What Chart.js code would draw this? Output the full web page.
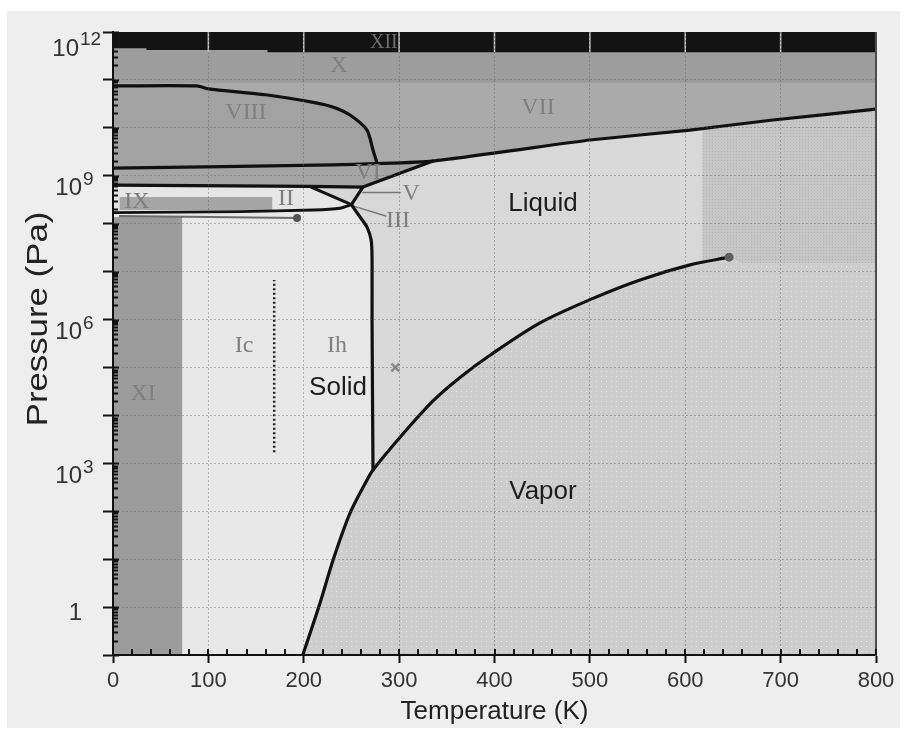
<!DOCTYPE html>
<html>
<head>
<meta charset="utf-8">
<title>Phase diagram of water</title>
<script src="https://cdn.jsdelivr.net/npm/chart.js@4/dist/chart.umd.min.js"></script>
<style>
html,body{margin:0;padding:0;background:#fff;overflow:hidden;}
canvas{display:block;}
</style>
</head>
<body>
<canvas id="chart" width="915" height="733"></canvas>
<script>
// ---------------- axis ticks ----------------
const xTickLabels = [0, 100, 200, 300, 400, 500, 600, 700, 800];
const xMinorTicks = Array.from({length: 41}, (_, i) => i * 20);
const yDecades = [0.1, 1, 10, 100, 1e3, 1e4, 1e5, 1e6, 1e7, 1e8, 1e9, 1e10, 1e11, 1e12];
const yTickValues = [1, 1e3, 1e6, 1e9, 1e12];
const yTickBase = ['1', '10', '10', '10', '10'];
const yTickExponent = ['', '3', '6', '9', '12'];

// ---------------- phase boundaries  [T (K), P (Pa)] ----------------
const vaporCurve = [[199, 0.1], [217, 1.2], [230.7, 9.5], [248.5, 91], [266.3, 447], [272.6, 724],
  [301, 3.5e3], [335.5, 2.0e4], [363.8, 6.2e4], [395.3, 1.8e5], [447.7, 8.5e5], [500.1, 2.6e6],
  [552.6, 6.7e6], [605, 1.38e7], [646, 2.0e7]];
const ihMeltingCurve = [[272.6, 724], [271.6, 1e6], [271.6, 2e7], [270.6, 4.6e7], [266.3, 8.5e7], [259, 1.38e8], [250, 2.5e8]];
const ihIIBoundary = [[0, 1.71e8], [133, 1.78e8], [210, 1.93e8], [238, 2.1e8], [250, 2.5e8]];
const iiVIBoundary = [[0, 6.4e8], [206, 6.0e8], [262, 5.8e8]];
const iiIIIBoundary = [[206, 6.0e8], [250, 2.5e8]];
const highIceMelting = [[250, 2.5e8], [262, 5.8e8], [335.5, 2.03e9]];
const viVIIIBoundaryAndVIIMelting = [[0, 1.45e9], [230.7, 1.68e9], [335.5, 2.03e9], [500.1, 5.57e9],
  [605, 9.0e9], [692, 1.46e10], [800, 2.45e10]];
const viiiUpperBoundary = [[0, 7.5e10], [88, 7.5e10], [100, 6.5e10], [160, 4.9e10], [210, 3.4e10],
  [231, 2.7e10], [248.5, 1.85e10], [266.3, 9.0e9], [272.6, 3.45e9], [276.8, 1.85e9]];
const iceXLowerP = 8.6e10;
const iceXIILower = [[0, 4.6e11], [35, 4.6e11], [35, 4.2e11], [162, 4.2e11], [162, 3.8e11], [800, 3.8e11]];
const iceXIT = [0, 72.5];
const iceXIP = [0.1, 1.38e8];
const iceIXT = [7, 167];
const iceIXP = [1.93e8, 3.6e8];
const supercriticalT = [618, 800];
const supercriticalP = [1.5e7, 1e12];
const criticalPoint = [[646, 2.0e7]];
const xiTransition = [[7, 1.45e8], [193, 1.31e8]];
const xiTransitionPoint = [[193, 1.31e8]];
const icIhDivider = [[169, 1.7e3], [169, 6.7e6]];
const ambientPoint = [[296, 1e5]];
const pointerV = [[262, 4.5e8], [301, 4.5e8]];
const pointerIII = [[253, 2.3e8], [286, 1.45e8]];

// ---------------- labels [text, T, P] ----------------
const phaseLabels = [['XII', 284, 5.9e11], ['X', 237, 1.95e11], ['VIII', 139.4, 2.04e10], ['VII', 445.6, 2.6e10],
  ['VI', 267.4, 1.14e9], ['V', 312.5, 4.16e8], ['III', 298.8, 1.14e8], ['II', 181.4, 3.27e8],
  ['IX', 25.2, 2.83e8], ['XI', 31.5, 2.8e4], ['Ic', 137.4, 2.8e5], ['Ih', 234.9, 2.8e5]];
const stateLabels = [['Solid', 235.9, 3.7e4], ['Liquid', 450.8, 2.58e8], ['Vapor', 450.8, 252]];

// ---------------- helpers ----------------
const toXY = a => a.map(([x, y]) => ({x, y}));
const rect = (t, p) => [[t[0], p[0]], [t[1], p[0]], [t[1], p[1]], [t[0], p[1]]];
const rev = a => a.slice().reverse();
function makePattern(base, dot, size) {
  const c = document.createElement('canvas');
  c.width = c.height = size;
  const g = c.getContext('2d');
  g.fillStyle = base; g.fillRect(0, 0, size, size);
  g.fillStyle = dot; g.fillRect(1, 1, 1, 1);
  return g.createPattern(c, 'repeat');
}
function area(points, color, order) {
  return {data: toXY(points), showLine: true, fill: 'shape', backgroundColor: color,
    borderWidth: 0, borderColor: 'rgba(0,0,0,0)', pointRadius: 0, pointHoverRadius: 0, order};
}
function curve(points, color, width, order, extra) {
  return Object.assign({data: toXY(points), showLine: true, fill: false, borderColor: color,
    borderWidth: width, pointRadius: 0, pointHoverRadius: 0, order,
    borderCapStyle: 'round', borderJoinStyle: 'round'}, extra || {});
}

// ---------------- region polygons ----------------
const fullT = [0, 800], fullP = [0.1, 1e12];
const vaporPoly = vaporCurve.concat([[660, 1.5e7], [800, 1.5e7], [800, 0.1]]);
const solidPoly = [[0, 0.1]].concat(ihIIBoundary, rev(ihMeltingCurve).slice(1), rev(vaporCurve.slice(0, 6)).slice(1));
const iiPoly = iiVIBoundary.slice(0, 2).concat(rev(ihIIBoundary));
const iiiVPoly = [[206, 6.0e8], [250, 2.5e8], [262, 5.8e8]];
const viiPoly = viVIIIBoundaryAndVIIMelting.concat([[800, 1e12], [0, 1e12]]);
const xPoly = rect(fullT, [iceXLowerP, 1e12]);
const xiiPoly = iceXIILower.concat([[800, 1e12], [0, 1e12]]);
const viPoly = viVIIIBoundaryAndVIIMelting.slice(0, 3).concat([[262, 5.8e8]], rev(iiVIBoundary.slice(0, 2)));
const viiiPoly = viiiUpperBoundary.concat([[230.7, 1.68e9], [0, 1.45e9]]);

const gridColor = 'rgba(95,95,95,0.42)';
const INK = '#111111';

const datasets = [
  area(rect(fullT, fullP), '#d8d8d8', 100),
  area(rect(supercriticalT, supercriticalP), makePattern('#c6c6c6', '#b3b3b3', 3), 99),
  area(vaporPoly, makePattern('#cdcdcd', '#e4e4e4', 5), 98),
  area(solidPoly, '#e8e8e8', 97),
  area(iiPoly, '#e6e6e6', 96),
  area(iiiVPoly, '#d6d6d6', 95),
  area(viiPoly, '#aaaaaa', 94),
  area(xPoly, '#9d9d9d', 93),
  area(xiiPoly, '#131313', 92),
  area(viPoly, '#a5a5a5', 91),
  area(viiiPoly, '#a2a2a2', 90),
  area(rect(iceXIT, iceXIP), '#9b9b9b', 89),
  area(rect(iceIXT, iceIXP), '#a6a6a6', 88)
];
// light grid traces inside the dark top band
xTickLabels.slice(1, -1).forEach(t => {
  datasets.push(curve([[t, 3.8e11], [t, 1e12]], '#c8c8c8', 1.5, 80, {borderCapStyle: 'butt'}));
});
datasets.push(
  curve(xiTransition, '#6c6c6c', 2, 30),
  curve(pointerV, '#777777', 1.5, 30),
  curve(pointerIII, '#777777', 1.5, 30),
  curve(icIhDivider, '#222222', 2.5, 30, {borderDash: [2, 2.5], borderCapStyle: 'butt'}),
  curve(viiiUpperBoundary, INK, 3.2, 20, {tension: 0.25}),
  curve(viVIIIBoundaryAndVIIMelting, INK, 3.2, 20, {tension: 0.15}),
  curve(iiVIBoundary, INK, 3.2, 20),
  curve(iiIIIBoundary, INK, 3, 20),
  curve(highIceMelting, INK, 3.2, 20),
  curve(ihIIBoundary, INK, 2.8, 20, {tension: 0.2}),
  curve(ihMeltingCurve, INK, 3.2, 20, {tension: 0.25}),
  curve(vaporCurve, INK, 3.2, 20, {tension: 0.3}),
  {data: toXY(criticalPoint), showLine: false, pointRadius: 4.5, pointBackgroundColor: '#5e5e5e', pointBorderWidth: 0, order: 10},
  {data: toXY(xiTransitionPoint), showLine: false, pointRadius: 4, pointBackgroundColor: '#555555', pointBorderWidth: 0, order: 10},
  {data: toXY(ambientPoint), showLine: false, pointStyle: 'crossRot', pointRadius: 5.5, pointBorderColor: '#8a8a8a', pointBorderWidth: 2.5, order: 10}
);

const SANS = '"Liberation Sans", Arial, Helvetica, sans-serif';
const SERIF = '"Liberation Serif", "Times New Roman", serif';

const decor = {
  id: 'decor',
  beforeDraw(chart) {
    const c = chart.ctx;
    c.save();
    c.fillStyle = '#ffffff'; c.fillRect(0, 0, chart.width, chart.height);
    c.fillStyle = '#eeeeee'; c.fillRect(7, 11, 893, 717);
    c.restore();
  },
  afterDraw(chart) {
    const c = chart.ctx, a = chart.chartArea, xs = chart.scales.x, ys = chart.scales.y;
    c.save();
    // right frame
    c.strokeStyle = '#4c4c4c'; c.lineWidth = 2;
    c.beginPath(); c.moveTo(a.right, a.top); c.lineTo(a.right, a.bottom + 1); c.stroke();
    // inward tick marks
    c.strokeStyle = INK; c.lineWidth = 2; c.beginPath();
    xMinorTicks.forEach(t => {
      const px = Math.round(xs.getPixelForValue(t));
      c.moveTo(px, a.bottom); c.lineTo(px, a.bottom - 6);
    });
    yDecades.forEach(d => {
      for (let k = 1; k < 10; k++) {
        const v = d * k;
        if (v > 1.0001e12) break;
        const py = Math.round(ys.getPixelForValue(v)) + 0.5;
        c.moveTo(a.left, py); c.lineTo(a.left + (k === 1 ? 6 : 5), py);
      }
    });
    c.stroke();
    // y tick labels with superscripts
    c.fillStyle = '#333333'; c.textBaseline = 'middle';
    yTickValues.forEach((v, i) => {
      const py = ys.getPixelForValue(v);
      const base = yTickBase[i], ex = yTickExponent[i];
      const wide = ex.length > 1;
      const right = wide ? 79 : 82;
      const drop = ex ? (wide ? 17 : 13) : 6;
      c.font = '24px ' + SANS; c.textAlign = 'right';
      c.fillText(base, right, py + drop);
      if (ex) { c.font = '19px ' + SANS; c.textAlign = 'left'; c.fillText(ex, right + 1, py + drop - 9); }
    });
    // y axis title
    c.save();
    c.translate(39, 319); c.rotate(-Math.PI / 2); c.scale(1.16, 1);
    c.font = '30px ' + SANS; c.textAlign = 'center'; c.textBaseline = 'middle'; c.fillStyle = '#222222';
    c.fillText('Pressure (Pa)', 0, 0);
    c.restore();
    // phase labels
    c.textAlign = 'center'; c.textBaseline = 'middle';
    phaseLabels.forEach(([text, t, p]) => {
      c.font = (text === 'XII' ? '20px ' : '24px ') + SERIF;
      c.fillStyle = text === 'XII' ? '#6e6e6e' : '#7f7f7f';
      c.fillText(text, xs.getPixelForValue(t), ys.getPixelForValue(p));
    });
    c.font = '26px ' + SANS; c.fillStyle = '#1c1c1c';
    stateLabels.forEach(([text, t, p]) => {
      c.fillText(text, xs.getPixelForValue(t), ys.getPixelForValue(p));
    });
    c.restore();
  }
};

new Chart(document.getElementById('chart'), {
  type: 'scatter',
  data: {datasets},
  plugins: [decor],
  options: {
    responsive: false,
    devicePixelRatio: 1,
    animation: false,
    events: [],
    layout: {padding: {left: 0, right: 39, top: 32, bottom: 0}},
    plugins: {legend: {display: false}, tooltip: {enabled: false}, title: {display: false}},
    scales: {
      x: {
        type: 'linear', min: 0, max: 800,
        afterBuildTicks: s => { s.ticks = xMinorTicks.map(v => ({value: v})); },
        afterFit: s => { s.height = 78; },
        grid: {
          z: 1, lineWidth: 1,
          color: c => (c.tick && c.tick.value % 100 === 0 && c.tick.value > 0 && c.tick.value < 800) ? gridColor : 'rgba(0,0,0,0)',
          drawTicks: true, tickLength: 8, tickWidth: 2,
          tickColor: c => (c.tick && xTickLabels.includes(c.tick.value)) ? INK : 'rgba(0,0,0,0)'
        },
        border: {display: true, color: INK, width: 2, dash: [2, 2], z: 2},
        ticks: {
          autoSkip: false, maxRotation: 0, minRotation: 0, padding: 5, color: '#333333',
          font: {family: SANS, size: 22},
          callback: v => xTickLabels.includes(v) ? String(v) : ''
        },
        title: {display: true, text: 'Temperature (K)', color: '#222222', font: {family: SANS, size: 26}, padding: {top: 0, bottom: 6}}
      },
      y: {
        type: 'logarithmic', min: 0.1, max: 1e12,
        afterBuildTicks: s => { s.ticks = yDecades.map(v => ({value: v, major: true})); },
        afterFit: s => { s.width = 113; },
        grid: {
          z: 1, lineWidth: 1,
          color: c => (c.tick && c.tick.value > 0.11 && c.tick.value < 0.9e12) ? gridColor : 'rgba(0,0,0,0)',
          drawTicks: true, tickLength: 10, tickWidth: 2, tickColor: INK
        },
        border: {display: true, color: INK, width: 2, dash: [2, 2], z: 2},
        ticks: {display: false}
      }
    }
  }
});
</script>
</body>
</html>
